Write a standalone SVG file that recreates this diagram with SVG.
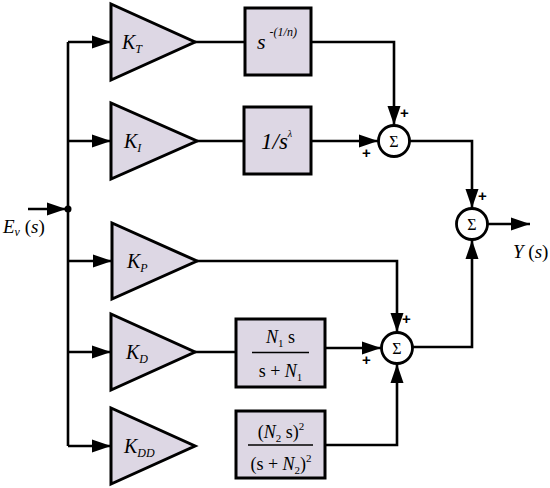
<svg xmlns="http://www.w3.org/2000/svg" width="550" height="488" viewBox="0 0 550 488">
<defs>
<style>
.blk{fill:#DDD7E4;stroke:#000;stroke-width:3;stroke-linejoin:miter}
.sum{fill:#fff;stroke:#000;stroke-width:2.8}
.ln{fill:none;stroke:#000;stroke-width:2.6}
text{font-family:'Liberation Serif','DejaVu Serif',serif;fill:#000}
.i{font-style:italic}
.pl{font-family:'Liberation Sans',Arial,sans-serif;font-weight:bold;font-size:15px;fill:#000}
</style>
<marker id="ar" markerUnits="userSpaceOnUse" markerWidth="20" markerHeight="14" refX="19" refY="7" orient="auto">
<path d="M0,0.5 L19,7 L0,13.5 Z" fill="#000"/>
</marker>
</defs>
<rect width="550" height="488" fill="#fff"/>
<g id="connectors">
<line class="ln" x1="28" y1="209" x2="66" y2="209" marker-end="url(#ar)"/>
<line class="ln" x1="68" y1="42" x2="68" y2="446"/>
<circle cx="68" cy="209" r="3.5" fill="#000"/>
<polyline class="ln" points="68,42 111,42" marker-end="url(#ar)"/>
<polyline class="ln" points="68,141 111,141" marker-end="url(#ar)"/>
<polyline class="ln" points="68,261 112,261" marker-end="url(#ar)"/>
<polyline class="ln" points="68,352 111,352" marker-end="url(#ar)"/>
<polyline class="ln" points="68,446 111,446" marker-end="url(#ar)"/>
<line class="ln" x1="195" y1="42" x2="245" y2="42"/>
<polyline class="ln" points="311,42 394,42 394,125" marker-end="url(#ar)"/>
<line class="ln" x1="197" y1="141" x2="244" y2="141"/>
<polyline class="ln" points="311,141 378,141" marker-end="url(#ar)"/>
<polyline class="ln" points="410,141 472,141 472,208" marker-end="url(#ar)"/>
<polyline class="ln" points="488,224 530,224" marker-end="url(#ar)"/>
<polyline class="ln" points="197,261 397,261 397,332" marker-end="url(#ar)"/>
<line class="ln" x1="195" y1="352" x2="236" y2="352"/>
<polyline class="ln" points="325,348 381,348" marker-end="url(#ar)"/>
<polyline class="ln" points="325,445 397,445 397,364" marker-end="url(#ar)"/>
<polyline class="ln" points="413,347 472,347 472,240" marker-end="url(#ar)"/>
</g>
<g id="KT">
<polygon class="blk" points="111,4 111,80 195,42"/>
<text class="i" x="122" y="49" font-family="Liberation Serif" font-size="20">K<tspan font-size="12" dy="4">T</tspan></text>
</g>
<g id="KI">
<polygon class="blk" points="111,103 111,179 197,141"/>
<text class="i" x="124" y="148" font-family="Liberation Serif" font-size="20">K<tspan font-size="12" dy="4">I</tspan></text>
</g>
<g id="KP">
<polygon class="blk" points="112,223 112,299 197,261"/>
<text class="i" x="127" y="268" font-family="Liberation Serif" font-size="20">K<tspan font-size="12" dy="4">P</tspan></text>
</g>
<g id="KD">
<polygon class="blk" points="111,314 111,390 195,352"/>
<text class="i" x="126" y="359" font-family="Liberation Serif" font-size="20">K<tspan font-size="12" dy="4">D</tspan></text>
</g>
<g id="KDD">
<polygon class="blk" points="111,408 111,484 195,446"/>
<text class="i" x="124" y="453" font-family="Liberation Serif" font-size="20">K<tspan font-size="12" dy="4">DD</tspan></text>
</g>
<g id="frac_order">
<rect class="blk" x="245" y="8" width="66" height="67"/>
<text class="i" x="257" y="49" font-family="Liberation Serif" font-size="22">s<tspan font-size="12" dx="4" dy="-13">-(1/n)</tspan></text>
</g>
<g id="integrator">
<rect class="blk" x="244" y="107" width="67" height="67"/>
<text class="i" x="261" y="149" font-family="Liberation Serif" font-size="23">1/s<tspan font-size="10" dy="-12">λ</tspan></text>
</g>
<g id="deriv1">
<rect class="blk" x="236" y="319" width="89" height="68"/>
<text x="280.5" y="343" font-family="Liberation Serif" font-size="18" text-anchor="middle"><tspan class="i">N</tspan><tspan font-size="11" dy="4">1</tspan><tspan dy="-4"> s</tspan></text>
<line x1="252" y1="352.5" x2="309" y2="352.5" stroke="#000" stroke-width="1.5"/>
<text x="280.5" y="377" font-family="Liberation Serif" font-size="18" text-anchor="middle">s + <tspan class="i">N</tspan><tspan font-size="11" dy="4">1</tspan></text>
</g>
<g id="deriv2">
<rect class="blk" x="236" y="411" width="89" height="67"/>
<text x="281" y="438" font-family="Liberation Serif" font-size="18" text-anchor="middle">(<tspan class="i">N</tspan><tspan font-size="11" dy="4">2</tspan><tspan dy="-4"> s)</tspan><tspan font-size="11" dy="-8">2</tspan></text>
<line x1="248" y1="445" x2="313" y2="445" stroke="#000" stroke-width="1.5"/>
<text x="281" y="470" font-family="Liberation Serif" font-size="18" text-anchor="middle">(s + <tspan class="i">N</tspan><tspan font-size="11" dy="4">2</tspan><tspan dy="-4">)</tspan><tspan font-size="11" dy="-8">2</tspan></text>
</g>
<g id="sum1">
<circle class="sum" cx="394" cy="141" r="15.5"/>
<text x="394" y="146.5" font-family="Liberation Serif" font-size="16" text-anchor="middle">Σ</text>
<text class="pl" x="400" y="118">+</text>
<text class="pl" x="362" y="158">+</text>
</g>
<g id="sum2">
<circle class="sum" cx="472" cy="224" r="15.5"/>
<text x="472" y="229.5" font-family="Liberation Serif" font-size="16" text-anchor="middle">Σ</text>
<text class="pl" x="478" y="201">+</text>
</g>
<g id="sum3">
<circle class="sum" cx="397" cy="348" r="15.5"/>
<text x="397" y="353.5" font-family="Liberation Serif" font-size="16" text-anchor="middle">Σ</text>
<text class="pl" x="402" y="324">+</text>
<text class="pl" x="362" y="365">+</text>
</g>
<g id="labels">
<text x="3" y="233" font-family="Liberation Serif" font-size="19"><tspan class="i">E</tspan><tspan class="i" font-size="12" dy="3">v</tspan><tspan dy="-3"> (</tspan><tspan class="i">s</tspan>)</text>
<text x="513" y="258" font-family="Liberation Serif" font-size="19"><tspan class="i">Y</tspan> (<tspan class="i">s</tspan>)</text>
</g>
</svg>
